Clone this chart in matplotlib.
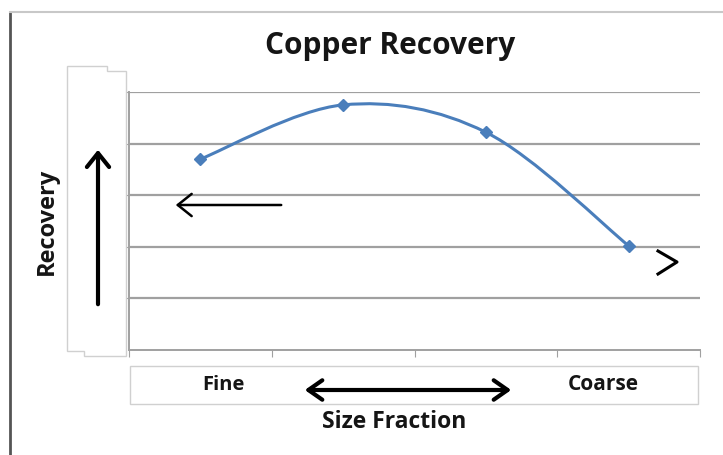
import matplotlib
matplotlib.use("Agg")
import matplotlib.pyplot as plt
from matplotlib.path import Path
from matplotlib.patches import PathPatch, Rectangle, Polygon, FancyArrowPatch
from matplotlib.lines import Line2D

# data
categories = ["c1", "c2", "c3", "c4"]
recovery = [3.70, 4.75, 4.22, 2.02]
end_labels = ["Fine", "Coarse"]

W, H = 723, 456
FONT = "Open Sans"
BLUE = "#4a7ebb"
GRID = "#a0a0a0"
TEXT = "#151515"


def fx(px):
    return px / W


def fy(py):
    return 1 - py / H


def arrow(fig, x0, y0, x1, y1, style, lw):
    fig.add_artist(FancyArrowPatch((fx(x0), fy(y0)), (fx(x1), fy(y1)),
                                   transform=fig.transFigure, arrowstyle=style,
                                   mutation_scale=1, color="black",
                                   linewidth=lw, zorder=6))


fig = plt.figure(figsize=(W / 100, H / 100), dpi=100)
fig.patch.set_facecolor("white")

ax = fig.add_axes([fx(129), fy(351), fx(700) - fx(129), fy(93) - fy(351)])
ax.set_xlim(0, len(categories))
ax.set_ylim(0, 5)
xs = [i + 0.5 for i in range(len(categories))]

# Excel style smoothed line (catmull-rom as cubic bezier)
pts = list(zip(xs, recovery))
verts = [pts[0]]
codes = [Path.MOVETO]
for i in range(len(pts) - 1):
    p0 = pts[max(i - 1, 0)]
    p1 = pts[i]
    p2 = pts[i + 1]
    p3 = pts[min(i + 2, len(pts) - 1)]
    c1 = (p1[0] + (p2[0] - p0[0]) / 6, p1[1] + (p2[1] - p0[1]) / 6)
    c2 = (p2[0] - (p3[0] - p1[0]) / 6, p2[1] - (p3[1] - p1[1]) / 6)
    verts += [c1, c2, p2]
    codes += [Path.CURVE4] * 3
ax.add_patch(PathPatch(Path(verts, codes), facecolor="none", edgecolor=BLUE,
                       linewidth=2.2, zorder=3))
ax.plot(xs, recovery, linestyle="none", marker="D", markersize=6,
        color=BLUE, zorder=4)

ax.set_yticks([1, 2, 3, 4, 5])
ax.yaxis.grid(True, color=GRID, linewidth=1.6)
ax.set_axisbelow(True)
ax.set_xticks(range(len(categories) + 1))
ax.tick_params(axis="x", length=5, color=GRID, labelbottom=False)
ax.tick_params(axis="y", length=5, color=GRID, labelleft=False)
for side in ["top", "right"]:
    ax.spines[side].set_visible(False)
for side in ["left", "bottom"]:
    ax.spines[side].set_color(GRID)
    ax.spines[side].set_linewidth(1.4)

# outer frame
fig.add_artist(Line2D([fx(10), fx(10)], [fy(13), 0], color="#555555", linewidth=2))
fig.add_artist(Line2D([fx(10), 1], [fy(13), fy(13)], color="#c8c8c8", linewidth=1.5))

fig.text(fx(390), fy(46), "Copper Recovery", family=FONT, fontweight="bold",
         fontsize=21.5, ha="center", va="center", color=TEXT)

# pasted box over y tick labels
box = [(67, 67), (107, 67), (107, 72), (126, 72), (126, 357), (84, 357),
       (84, 352), (67, 352)]
fig.add_artist(Polygon([(fx(x), fy(y)) for x, y in box], closed=True,
                       facecolor="white", edgecolor="#d0d0d0", linewidth=1))
fig.text(fx(47), fy(221), "Recovery", family=FONT, fontweight="bold",
         fontsize=17, rotation=90, ha="center", va="center", color=TEXT)
arrow(fig, 98, 308, 98, 148, "->,head_length=10,head_width=8", 3)

# arrows inside plot
arrow(fig, 284, 206, 173, 206, "->,head_length=10,head_width=8", 1.8)
fig.add_artist(Line2D([fx(658), fx(677), fx(658)], [fy(252), fy(263), fy(275)],
                      color="black", linewidth=2.2, zorder=6))

# bottom category box
fig.add_artist(Rectangle((fx(130), fy(405)), fx(698) - fx(130), fy(367) - fy(405),
                         facecolor="white", edgecolor="#d0d0d0", linewidth=1))
fig.text(fx(223), fy(385), end_labels[0], family=FONT, fontweight="bold",
         fontsize=14.5, ha="center", va="center", color=TEXT)
fig.text(fx(603), fy(385), end_labels[1], family=FONT, fontweight="bold",
         fontsize=15, ha="center", va="center", color=TEXT)
arrow(fig, 302, 391, 514, 391, "<->,head_length=10,head_width=7", 3)
fig.text(fx(394), fy(422), "Size Fraction", family=FONT, fontweight="bold",
         fontsize=16.5, ha="center", va="center", color=TEXT)

fig.savefig("out.png", dpi=100)
